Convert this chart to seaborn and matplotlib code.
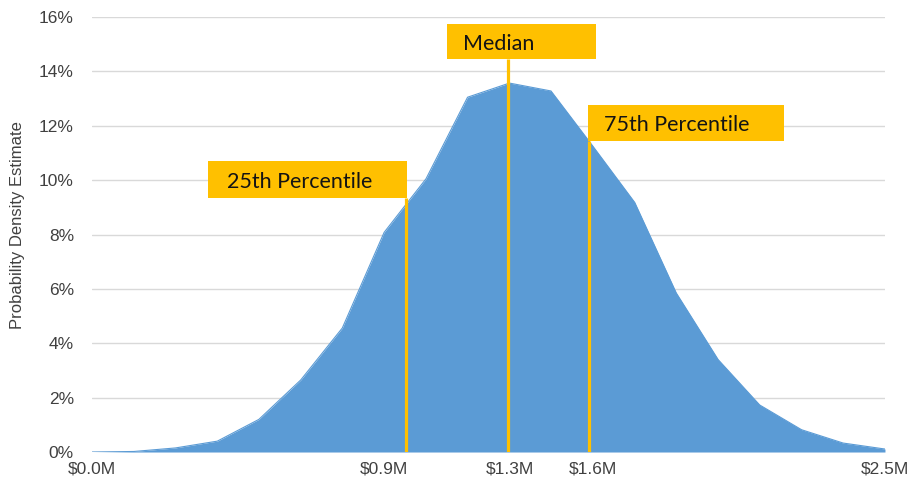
import matplotlib
matplotlib.use("Agg")
import matplotlib.pyplot as plt
from matplotlib.patches import Rectangle
from matplotlib.ticker import FuncFormatter
import seaborn as sns
import pandas as pd

# Outcome values ($M) and their estimated probability density (%)
outcome_musd = [0.000, 0.132, 0.263, 0.395, 0.526, 0.658, 0.789, 0.921, 1.053, 1.184,
                1.316, 1.447, 1.579, 1.711, 1.842, 1.974, 2.105, 2.237, 2.368, 2.500]
density_pct = [0.00, 0.02, 0.15, 0.40, 1.20, 2.65, 4.56, 8.08, 10.05, 13.05,
               13.57, 13.28, 11.25, 9.18, 5.85, 3.40, 1.73, 0.82, 0.33, 0.11]

# Percentile markers ($M)
marker_names = ["25th Percentile", "Median", "75th Percentile"]
marker_values = [0.990, 1.310, 1.567]

# Labelled x ticks
xtick_values = [0.000, 0.921, 1.316, 1.579, 2.500]
xtick_labels = ["$0.0M", "$0.9M", "$1.3M", "$1.6M", "$2.5M"]

df = pd.DataFrame({"outcome": outcome_musd, "density": [d / 100 for d in density_pct]})

AREA = "#5B9BD5"
GOLD = "#FFC000"
GRID = "#D9D9D9"
TICK = "#404040"

sns.set_theme(style="white")
plt.rcParams["font.family"] = ["Liberation Sans", "DejaVu Sans"]

fig = plt.figure(figsize=(9.13, 4.82), dpi=100)
ax = fig.add_axes([0.1008, 0.0622, 0.8685, 0.9025])

ax.fill_between(df["outcome"], 0, df["density"], color=AREA, linewidth=0, zorder=2)
sns.lineplot(data=df, x="outcome", y="density", color=AREA, linewidth=0.8, ax=ax, zorder=2)

ax.set_xlim(0, 2.5)
ax.set_ylim(0, 0.16)
ax.set_yticks([i * 0.02 for i in range(9)])
ax.yaxis.set_major_formatter(FuncFormatter(lambda v, _: f"{v * 100:.0f}%"))
ax.set_xticks(xtick_values)
ax.set_xticklabels(xtick_labels)

ax.grid(axis="y", color=GRID, linewidth=1.0, zorder=0)
ax.grid(axis="x", visible=False)
ax.set_axisbelow(True)
for side in ["top", "right", "left", "bottom"]:
    ax.spines[side].set_visible(False)

ax.tick_params(axis="y", length=0, pad=13, labelsize=12.5, labelcolor=TICK)
ax.tick_params(axis="x", length=0, pad=7, labelsize=12.5, labelcolor=TICK)

ax.set_xlabel("")
ax.set_ylabel("Probability Density Estimate", fontsize=12, color=TICK)
ax.yaxis.set_label_coords(-0.0845, 0.522)

# Callout boxes: (x0, x1, y0, y1) in data units
boxes = [
    (0.366, 0.993, 0.0934, 0.1070),
    (1.119, 1.589, 0.1446, 0.1574),
    (1.564, 2.182, 0.1144, 0.1276),
]
text_pad = [0.060, 0.050, 0.050]

for name, value, (x0, x1, y0, y1), tp in zip(marker_names, marker_values, boxes, text_pad):
    ax.plot([value, value], [0, y0], color=GOLD, linewidth=2.3,
            solid_capstyle="butt", zorder=4)
    ax.add_patch(Rectangle((x0, y0), x1 - x0, y1 - y0, facecolor=GOLD,
                           edgecolor="none", zorder=5))
    ax.text(x0 + tp, (y0 + y1) / 2 - 0.0009, name, ha="left", va="center",
            fontsize=15.5, color="#141414", family=["Lato", "DejaVu Sans"], zorder=6)

fig.savefig("out.png", dpi=100)
